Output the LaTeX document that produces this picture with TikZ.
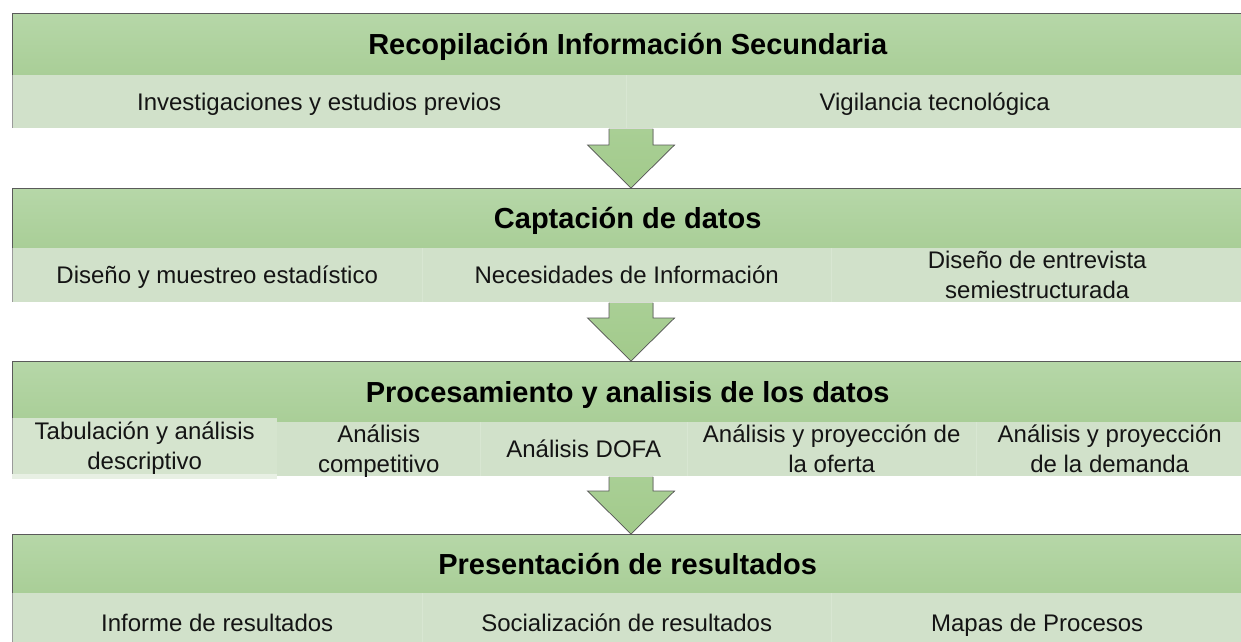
\documentclass[tikz,border=0pt]{standalone}
\usepackage{fontspec}
\setmainfont{Liberation Sans}
\usetikzlibrary{calc}
\definecolor{hdtop}{HTML}{B6D7A8}
\definecolor{hdbot}{HTML}{A9CE97}
\definecolor{subfill}{HTML}{D1E1CA}
\definecolor{subfillb}{HTML}{D5E4CE}
\definecolor{arrtop}{HTML}{A9CF95}
\definecolor{arrbot}{HTML}{A2CA8B}
\definecolor{edgec}{HTML}{5A5A5A}
\definecolor{subedge}{HTML}{9A9A9A}
\definecolor{divc}{HTML}{D8E6D2}
\definecolor{txt}{HTML}{141414}
\newcommand{\hdtext}[1]{\rule[-1.2pt]{0pt}{23.2pt}\smash{#1}}
\newcommand{\sbtext}[1]{\rule[-2.8pt]{0pt}{22.8pt}\smash{#1}}
\tikzset{
  header/.style={anchor=north west, minimum width=1231, minimum height=#1,
    top color=hdtop, bottom color=hdbot, inner sep=0pt,
    text=black, font=\fontsize{29}{33}\selectfont\bfseries},
  hedge/.style={draw=edgec, line width=0.9pt},
  subcell/.style={anchor=north west, fill=subfill, inner sep=0pt, align=center,
    text=txt, font=\fontsize{24}{30}\selectfont},
  divider/.style={draw=divc, line width=0.8pt},
  leftedge/.style={draw=subedge, line width=0.8pt},
  bigarrow/.style={top color=arrtop, bottom color=arrbot, draw=edgec, line width=0.7pt, line join=miter}
}
\begin{document}
\begin{tikzpicture}[x=1pt,y=-1pt]
\useasboundingbox (0,0) rectangle (1241,641);
\fill[white] (0,0) rectangle (1241,641);

% Block 1
\node[header=62] (h1) at (12,13) {\hdtext{Recopilación Información Secundaria}};
\node[subcell, minimum width=614, minimum height=53] (c11) at (12,75) {\sbtext{Investigaciones y estudios previos}};
\node[subcell, minimum width=617, minimum height=53] (c12) at (626,75) {\sbtext{Vigilancia tecnológica}};
\draw[divider] (c11.north east) -- (c11.south east);
\draw[hedge] (h1.south west) -- (h1.north west) -- (h1.north east);
\draw[leftedge] (c11.north west) -- (c11.south west);

% Block 2
\node[header=60] (h2) at (12,188) {\hdtext{Captación de datos}};
\node[subcell, minimum width=410, minimum height=54] (c21) at (12,248) {\sbtext{Diseño y muestreo estadístico}};
\node[subcell, minimum width=409, minimum height=54] (c22) at (422,248) {\sbtext{Necesidades de Información}};
\node[subcell, minimum width=412, minimum height=54] (c23) at (831,248) {\sbtext{Diseño de entrevista}\\\sbtext{semiestructurada}};
\draw[divider] (c21.north east) -- (c21.south east);
\draw[divider] (c22.north east) -- (c22.south east);
\draw[hedge] (h2.south west) -- (h2.north west) -- (h2.north east);
\draw[leftedge] (c21.north west) -- (c21.south west);

% Block 3
\node[header=61] (h3) at (12,361) {\hdtext{Procesamiento y analisis de los datos}};
\node[subcell, minimum width=203, minimum height=54] (c32) at (277,422) {\sbtext{Análisis}\\\sbtext{competitivo}};
\node[subcell, minimum width=207, minimum height=54] (c33) at (480,422) {\sbtext{Análisis DOFA}};
\node[subcell, minimum width=289, minimum height=54] (c34) at (687,422) {\sbtext{Análisis y proyección de}\\\sbtext{la oferta}};
\node[subcell, minimum width=267, minimum height=54] (c35) at (976,422) {\sbtext{Análisis y proyección}\\\sbtext{de la demanda}};
\fill[subfillb!55!white] (12,474) rectangle (277,478.5);
\node[subcell, fill=subfillb, minimum width=265, minimum height=56] (c31) at (12,418) {\sbtext{Tabulación y análisis}\\\sbtext{descriptivo}};
\draw[divider] (c32.north east) -- (c32.south east);
\draw[divider] (c33.north east) -- (c33.south east);
\draw[divider] (c34.north east) -- (c34.south east);
\draw[hedge] (h3.south west) -- (h3.north west) -- (h3.north east);
\draw[leftedge] (c31.north west) -- (c31.south west);

% Block 4
\node[header=59] (h4) at (12,534) {\hdtext{Presentación de resultados}};
\node[subcell, minimum width=410, minimum height=60] (c41) at (12,593) {\sbtext{Informe de resultados}};
\node[subcell, minimum width=409, minimum height=60] (c42) at (422,593) {\sbtext{Socialización de resultados}};
\node[subcell, minimum width=412, minimum height=60] (c43) at (831,593) {\sbtext{Mapas de Procesos}};
\draw[divider] (c41.north east) -- (c41.south east);
\draw[divider] (c42.north east) -- (c42.south east);
\draw[hedge] (h4.south west) -- (h4.north west) -- (h4.north east);
\draw[leftedge] (c41.north west) -- (c41.south west);

% Arrows
\coordinate (ax) at (631,0);
\coordinate (t1) at (ax |- c11.south);
\coordinate (b1) at (ax |- h2.north);
\coordinate (t2) at (ax |- c21.south);
\coordinate (b2) at (ax |- h3.north);
\coordinate (t3) at (ax |- c33.south);
\coordinate (b3) at (ax |- h4.north);
\foreach \t/\b in {t1/b1, t2/b2, t3/b3}{
  \filldraw[bigarrow] ($(\t)+(-22,0.4)$) -- ($(\b)+(-22,-43)$) -- ($(\b)+(-43.5,-43)$) -- (\b)
     -- ($(\b)+(43.5,-43)$) -- ($(\b)+(22,-43)$) -- ($(\t)+(22,0.4)$);
}
\end{tikzpicture}
\end{document}
